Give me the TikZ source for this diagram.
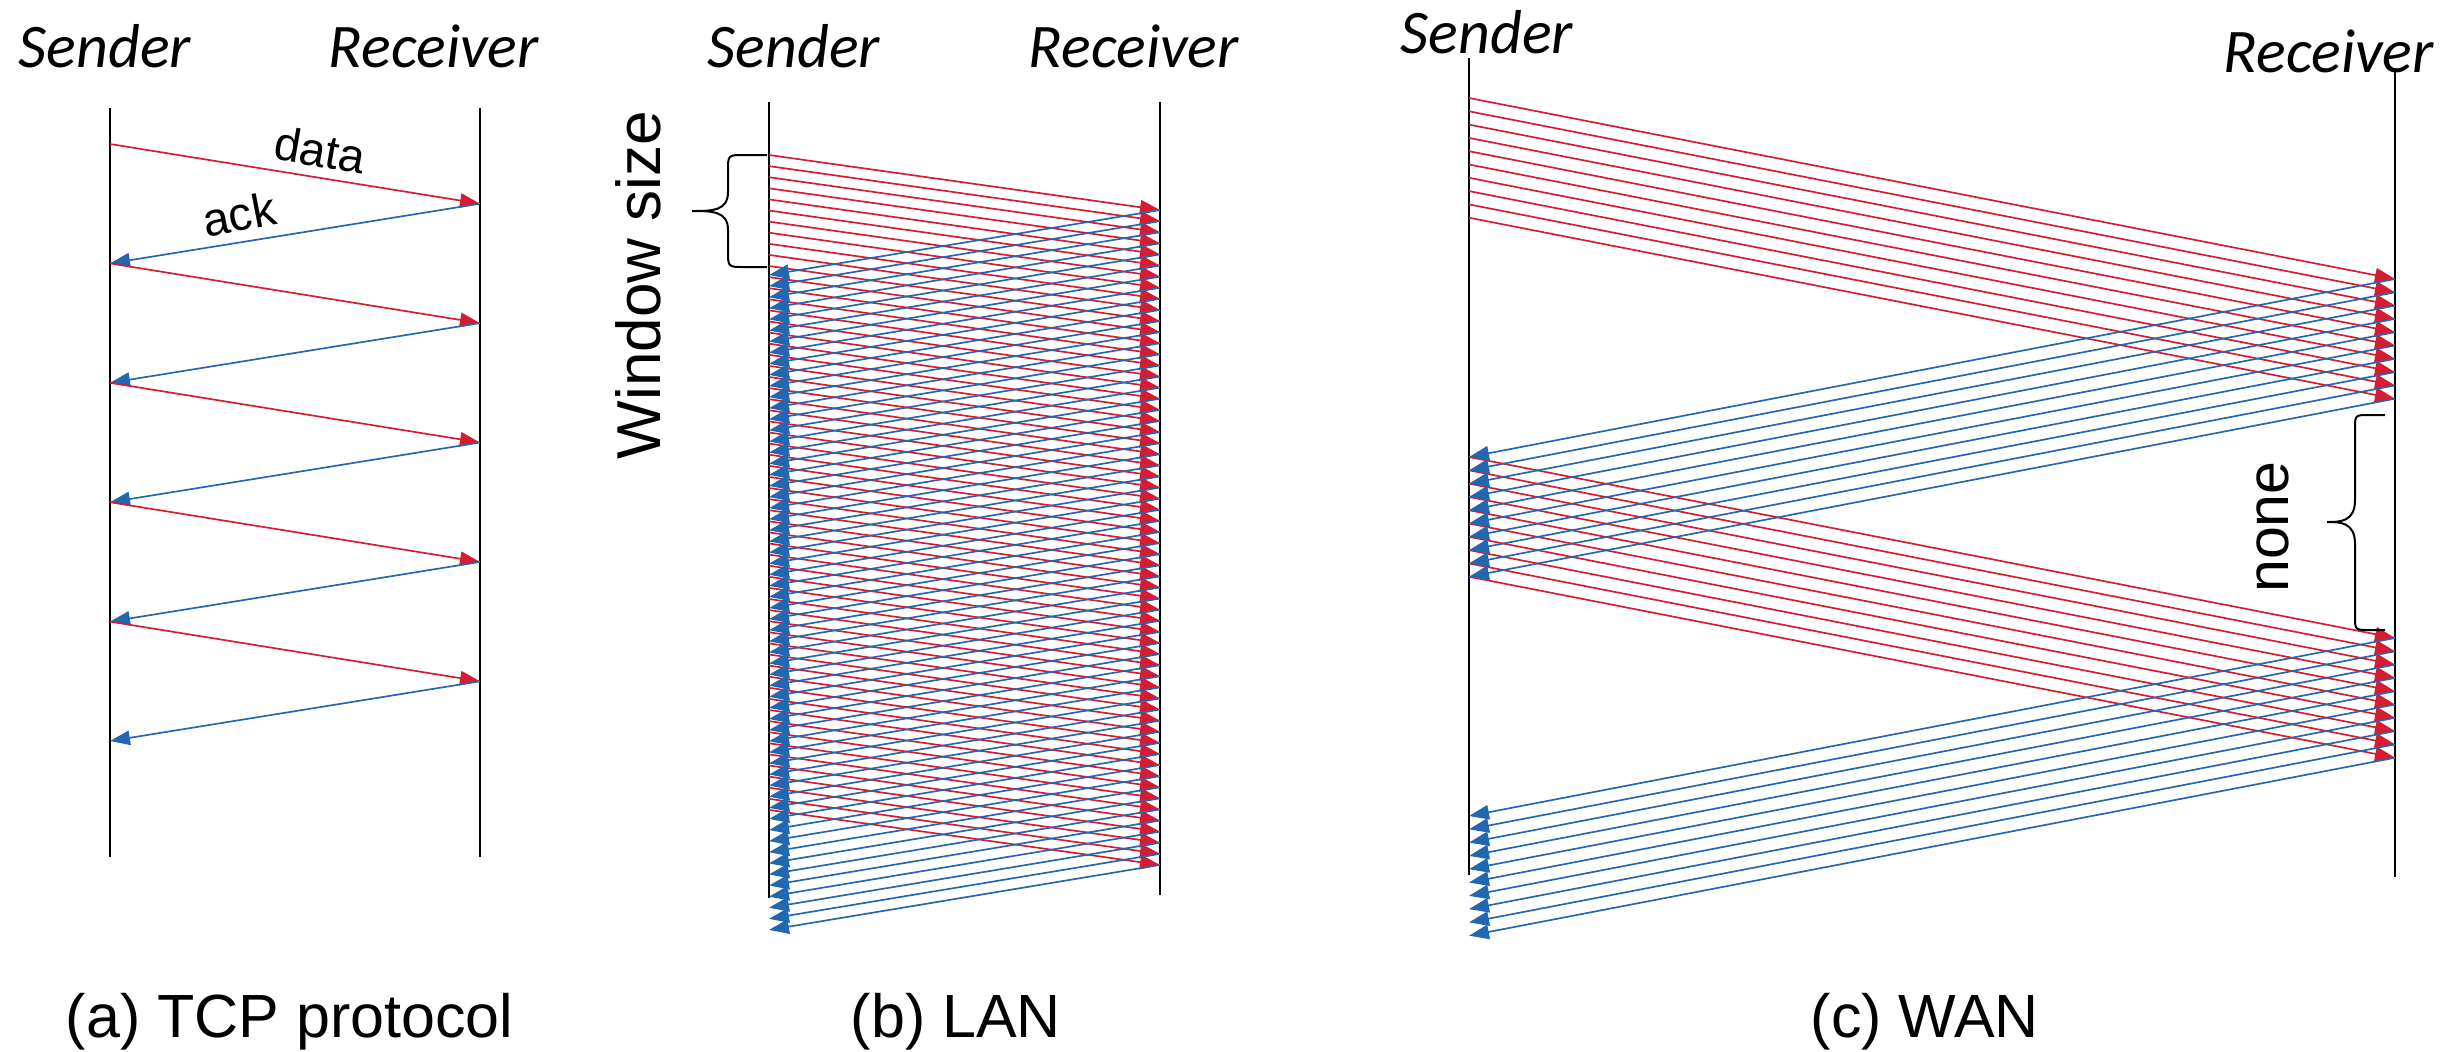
\documentclass[tikz,border=0pt]{standalone}
\usepackage{fontspec}
\setmainfont{Liberation Sans}
\newfontfamily\rolefont{Carlito}
\usetikzlibrary{arrows.meta}
\definecolor{datared}{RGB}{214,28,50}
\definecolor{ackblue}{RGB}{34,104,176}

\begin{document}
\begin{tikzpicture}[x=0.25pt,y=-0.25pt,
  lifeline/.style={draw=black, line width=0.5pt},
  datamsg/.style={draw=datared, line width=0.42pt, -{Triangle[length=5pt,width=3.6pt]}},
  ackmsg/.style={draw=ackblue, line width=0.42pt, -{Triangle[length=5pt,width=3.6pt]}},
  role/.style={font=\rolefont\itshape\fontsize{15.5pt}{18pt}\selectfont, anchor=base west, inner sep=0pt},
  panelcap/.style={font=\fontsize{15.25pt}{18pt}\selectfont, anchor=base west, inner sep=0pt},
  msglabel/.style={font=\fontsize{11.75pt}{14pt}\selectfont, inner sep=0pt},
  sidelabel/.style={font=\fontsize{15.5pt}{18pt}\selectfont, inner sep=0pt, rotate=90},
  bracket/.style={draw=black, line width=0.5pt},
]
\fill[white] (0,0) rectangle (2451,1051);
\useasboundingbox (0,0) rectangle (2451,1051);

% ---------------- (a) TCP protocol: stop-and-wait ----------------
\node[role] (aSender) at (18,67) {Sender};
\node[role] (aReceiver) at (328,67) {Receiver};
\coordinate (aSt) at (110,108);
\coordinate (aSb) at (110,857);
\coordinate (aRt) at (480,108);
\coordinate (aRb) at (480,857);
\draw[lifeline] (aSt) -- (aSb);
\draw[lifeline] (aRt) -- (aRb);
\foreach \k in {0,...,10}{
  \pgfmathsetmacro\yy{144+59.7*\k}
  \pgfmathtruncatemacro\side{mod(\k,2)}
  \ifnum\side=0
    \coordinate (aP\k) at (110,\yy);
  \else
    \coordinate (aP\k) at (480,\yy);
  \fi
}
\foreach \j in {0,...,4}{
  \pgfmathtruncatemacro\ka{2*\j}
  \pgfmathtruncatemacro\kb{2*\j+1}
  \pgfmathtruncatemacro\kc{2*\j+2}
  \draw[datamsg] (aP\ka) -- (aP\kb);
  \draw[ackmsg] (aP\kb) -- (aP\kc);
}
\node[msglabel, rotate=-10] (dataLbl) at (320,150) {data};
\node[msglabel, rotate=11] (ackLbl) at (239,214) {ack};
\node[panelcap] (capA) at (65,1037) {(a) TCP protocol};

% ---------------- (b) LAN: sliding window ----------------
\node[role] (bSender) at (707,67) {Sender};
\node[role] (bReceiver) at (1028,67) {Receiver};
\coordinate (bSt) at (769,102);
\coordinate (bSb) at (769,898);
\coordinate (bRt) at (1160,102);
\coordinate (bRb) at (1160,895);
\draw[lifeline] (bSt) -- (bSb);
\draw[lifeline] (bRt) -- (bRb);
\foreach \i in {0,...,59}{
  \pgfmathsetmacro\ts{155+11.1*\i}
  \pgfmathsetmacro\tr{\ts+55}
  \pgfmathsetmacro\ta{\tr+65}
  \coordinate (bS\i) at (769,\ts);
  \coordinate (bR\i) at (1160,\tr);
  \coordinate (bA\i) at (769,\ta);
}
\foreach \i in {0,...,59}{
  \draw[datamsg] (bS\i) -- (bR\i);
}
\foreach \i in {0,...,59}{
  \draw[ackmsg] (bR\i) -- (bA\i);
}
\coordinate (bTip) at (692,211);
\draw[bracket] (767,155) -- (744,155) .. controls (728,155) .. (728,171) -- (728,192)
  .. controls (728,211) and (712,211) .. (bTip)
  .. controls (712,211) and (728,211) .. (728,230) -- (728,251)
  .. controls (728,267) .. (744,267) -- (767,267);
\node[sidelabel] (winLbl) at (638,285) {Window size};
\node[panelcap] (capB) at (850,1037) {(b) LAN};

% ---------------- (c) WAN: long round trip ----------------
\node[role] (cSender) at (1400,53) {Sender};
\node[role] (cReceiver) at (2223,72) {Receiver};
\coordinate (cSt) at (1469,58);
\coordinate (cSb) at (1469,875);
\coordinate (cRt) at (2395,72);
\coordinate (cRb) at (2395,877);
\draw[lifeline] (cSt) -- (cSb);
\draw[lifeline] (cRt) -- (cRb);
\foreach \i in {0,...,9}{
  \pgfmathsetmacro\sa{98+13.3*\i}
  \pgfmathsetmacro\ra{\sa+181}
  \pgfmathsetmacro\aa{\ra+178}
  \pgfmathsetmacro\rb{\aa+181}
  \pgfmathsetmacro\ab{\rb+178}
  \coordinate (cS\i) at (1469,\sa);
  \coordinate (cR\i) at (2395,\ra);
  \coordinate (cA\i) at (1469,\aa);
  \coordinate (cQ\i) at (2395,\rb);
  \coordinate (cB\i) at (1469,\ab);
}
\foreach \i in {0,...,9}{
  \draw[datamsg] (cS\i) -- (cR\i);
  \draw[datamsg] (cA\i) -- (cQ\i);
}
\foreach \i in {0,...,9}{
  \draw[ackmsg] (cR\i) -- (cA\i);
  \draw[ackmsg] (cQ\i) -- (cB\i);
}
\coordinate (cTip) at (2327,522);
\draw[bracket] (2385,415) -- (2369,415) .. controls (2355,415) .. (2355,429) -- (2355,500)
  .. controls (2355,522) and (2340,522) .. (cTip)
  .. controls (2340,522) and (2355,522) .. (2355,544) -- (2355,616)
  .. controls (2355,630) .. (2369,630) -- (2385,630);
\node[sidelabel, font=\fontsize{14.75pt}{17pt}\selectfont] (noneLbl) at (2273,527) {none};
\node[panelcap] (capC) at (1810,1037) {(c) WAN};
\end{tikzpicture}
\end{document}
